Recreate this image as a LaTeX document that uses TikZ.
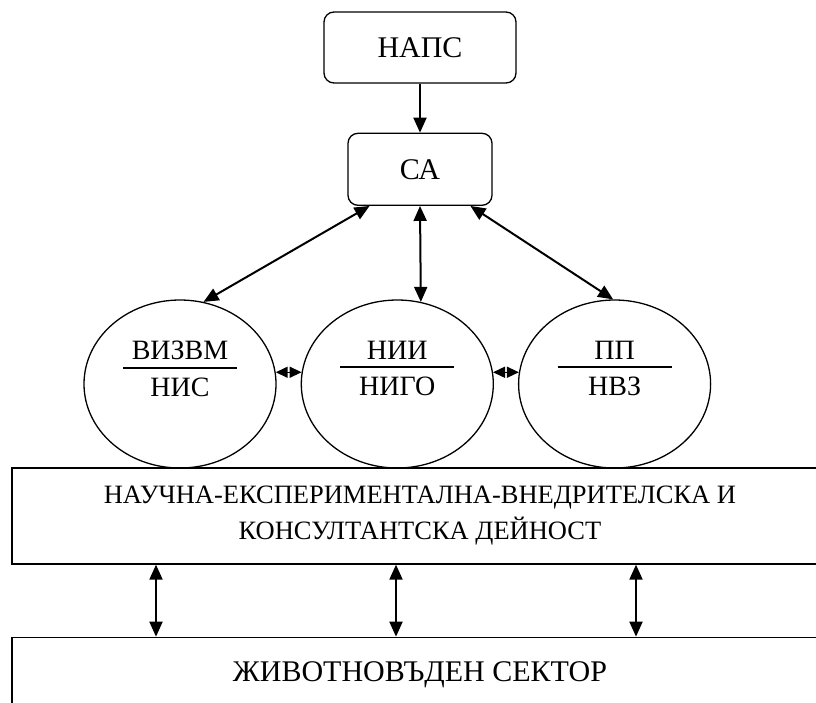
\documentclass[tikz,border=0pt]{standalone}
\usepackage{fontspec}
\setmainfont{Liberation Serif}
\usetikzlibrary{positioning}
\usetikzlibrary{arrows.meta}
\usetikzlibrary{shapes.geometric}
\tikzstyle{unit} = [rectangle, rounded corners=10pt,
    minimum height=71pt,
    text centered,
    draw=black, line width=1.3pt,
    font=\fontsize{30}{36}\selectfont]
\tikzstyle{org} = [ellipse,
    minimum width=192pt,
    minimum height=168pt,
    inner sep=0pt,
    text depth=31pt,
    draw=black, line width=1.3pt,
    font=\fontsize{28}{34}\selectfont]
\tikzstyle{panel} = [rectangle,
    minimum width=816pt,
    draw=black, line width=1.3pt]
\tikzstyle{arrow} = [line width=2pt,-{Triangle[length=15pt,width=13pt]}]
\tikzstyle{biarrow} = [line width=2pt,{Triangle[length=15pt,width=13pt]}-{Triangle[length=15pt,width=13pt]}]
\tikzstyle{linkarrow} = [line width=1.5pt,{Triangle[length=12pt,width=11pt]}-{Triangle[length=12pt,width=11pt]}]
\newcommand{\orgname}[2]{\vbox{\hbox to 114pt{\hss#1\hss}\kern7pt\hrule height 2pt\kern9pt\hbox to 114pt{\hss#2\hss}}}

\begin{document}
\begin{tikzpicture}[x=1pt,y=-1pt,node distance=49pt]
\useasboundingbox (0,0) rectangle (816,702);
\clip (0,0) rectangle (816,702);

\node (naps) [unit, minimum width=192pt] at (420,47.5) {НАПС};
\node (ca) [unit, minimum width=144pt, minimum height=72pt, below = of naps] {СА};

\node (vizvm) [org] at (180,384) {\orgname{ВИЗВМ}{НИС}};
\node (nii) [org, right = 24pt of vizvm] {\orgname{НИИ}{НИГО}};
\node (pp) [org, right = 24pt of nii] {\orgname{ПП}{НВЗ}};

\node (activity) [panel, minimum height=96pt, align=center,
    font=\fontsize{26.5}{36}\selectfont] at (420,516)
    {НАУЧНА-ЕКСПЕРИМЕНТАЛНА-ВНЕДРИТЕЛСКА И\\КОНСУЛТАНТСКА ДЕЙНОСТ};
\node (sector) [panel, inner sep=0pt, text height=44pt, text depth=60pt,
    font=\fontsize{30}{36}\selectfont, below = 72pt of activity] {ЖИВОТНОВЪДЕН СЕКТОР};

\draw [arrow] (naps) -- (ca);
\draw [biarrow] (ca.216) -- (vizvm.74);
\draw [biarrow] (ca.south) -- (nii.74);
\draw [biarrow] (ca.324) -- (pp.91);
\draw [linkarrow] (vizvm.7) -- (nii.173);
\draw [linkarrow] (nii.7) -- (pp.173);
\foreach \x in {156,396,636}
  \draw [biarrow] (\x,0 |- activity.south) -- (\x,0 |- sector.north);

\end{tikzpicture}
\end{document}
